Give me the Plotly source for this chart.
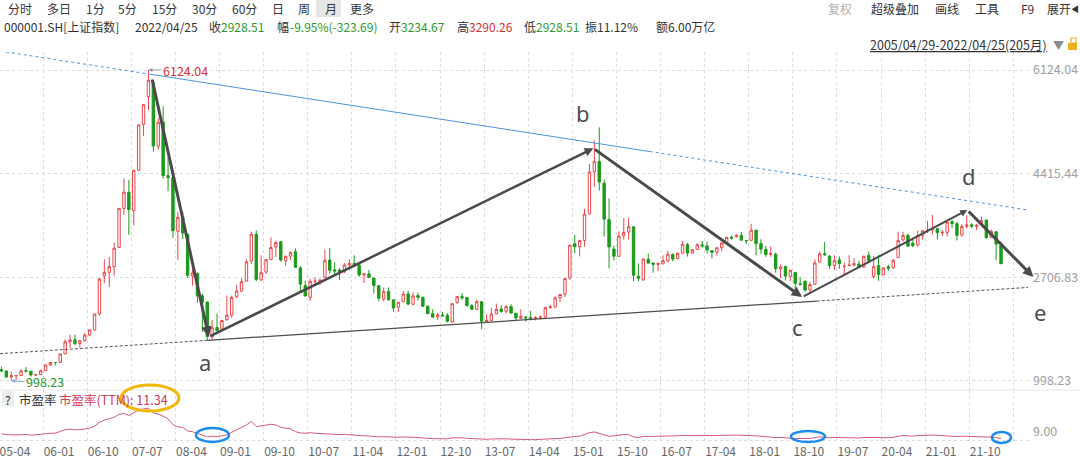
import plotly.graph_objects as go

# ---------------- data (monthly, 2005-04 .. 2022-04, 205 months) ----------------
open_ = [
    1181, 1159, 1060, 1080, 1083, 1162, 1155, 1092, 1099,
    1163, 1258, 1299, 1300, 1440, 1641, 1672, 1612, 1658, 1752, 1837, 2099,
    2728, 2786, 2881, 3197, 3841, 4106, 3802, 4471, 5226, 5683, 5914, 4868,
    5266, 4381, 4349, 3462, 3700, 3416, 2727, 2765, 2399, 2296, 1720, 1874,
    1849, 2004, 2080, 2380, 2477, 2640, 2973, 3414, 2662, 2791, 2997, 3205,
    3289, 2978, 3055, 3125, 2859, 2567, 2373, 2639, 2650, 2706, 2988, 2827,
    2825, 2803, 2909, 2935, 2905, 2744, 2762, 2691, 2566, 2344, 2473, 2332,
    2212, 2303, 2429, 2259, 2403, 2372, 2225, 2103, 2050, 2083, 2076, 1966,
    2289, 2386, 2372, 2237, 2174, 2301, 1975, 1993, 2102, 2181, 2143, 2222,
    2112, 2027, 2047, 2036, 2022, 2035, 2047, 2203, 2215, 2365, 2427, 2694,
    3258, 3212, 3312, 3748, 4446, 4614, 4255, 3656, 3168, 3050, 3391, 3451,
    3536, 2720, 2661, 3001, 2939, 2917, 2925, 2975, 3080, 3014, 3102, 3246,
    3105, 3166, 3239, 3222, 3144, 3119, 3192, 3271, 3367, 3371, 3397, 3309,
    3314, 3479, 3262, 3163, 3081, 3085, 2841, 2882, 2719, 2786, 2598, 2640,
    2497, 2590, 2954, 3094, 3053, 2899, 2992, 2881, 2898, 2906, 2921, 2876,
    3066, 2716, 2899, 2743, 2877, 2863, 3028, 3322, 3398, 3264, 3239, 3388,
    3475, 3486, 3505, 3439, 3445, 3620, 3588, 3402, 3546, 3572, 3544, 3575,
    3650, 3362, 3454, 3234.67,
]
high = [
    1232, 1163, 1147, 1095, 1185, 1223, 1157, 1113, 1181,
    1260, 1307, 1306, 1445, 1681, 1758, 1757, 1672, 1785, 1840, 2100, 2698,
    3000, 3041, 3276, 3842, 4335, 4312, 4471, 5219, 5562, 6124.04, 5914, 5329,
    5522, 4695, 4472, 3786, 3786, 3416, 2953, 2786, 2434, 2296, 2000, 2100,
    2004, 2402, 2399, 2579, 2689, 3003, 3455, 3478, 3068, 3000, 3361, 3305,
    3306, 3060, 3132, 3181, 2893, 2650, 2674, 2701, 2676, 3160, 3186, 2950,
    2855, 2939, 3001, 3067, 2933, 2773, 2827, 2699, 2578, 2536, 2537, 2341,
    2296, 2478, 2478, 2454, 2453, 2389, 2245, 2175, 2118, 2133, 2111, 2276,
    2390, 2444, 2375, 2262, 2334, 2315, 2093, 2198, 2270, 2243, 2244, 2260,
    2112, 2177, 2067, 2147, 2061, 2075, 2224, 2249, 2391, 2430, 2683, 3239,
    3407, 3325, 3835, 4573, 4959, 5178, 4318, 4006, 3231, 3464, 3679, 3684,
    3539, 2934, 3019, 3098, 2953, 2950, 3066, 3140, 3101, 3113, 3301, 3271,
    3165, 3264, 3304, 3295, 3152, 3200, 3276, 3374, 3391, 3418, 3451, 3318,
    3587, 3495, 3334, 3220, 3219, 3114, 2915, 2897, 2827, 2787, 2703, 2649,
    2630, 2997, 3130, 3288, 3070, 3070, 3048, 2946, 3068, 3022, 2979, 3063,
    3127, 3058, 3074, 2864, 2909, 3001, 3458, 3453, 3425, 3359, 3474, 3474,
    3637, 3732, 3522, 3481, 3625, 3654, 3623, 3582, 3731, 3600, 3590, 3709,
    3651, 3492, 3467, 3290.26,
]
low = [
    1136, 1043, 998.23, 1004, 1083, 1131, 1067, 1074, 1097,
    1163, 1240, 1250, 1297, 1440, 1541, 1583, 1547, 1644, 1729, 1821, 2072,
    2605, 2541, 2726, 3195, 3738, 3404, 3563, 4457, 5034, 5462, 4778, 4813,
    4330, 4123, 3357, 2990, 3333, 2693, 2566, 2284, 1802, 1664, 1678, 1814,
    1844, 1990, 2037, 2356, 2460, 2635, 2923, 2639, 2639, 2761, 2990, 3039,
    2963, 2890, 2986, 2868, 2481, 2382, 2319, 2564, 2573, 2688, 2764, 2740,
    2661, 2772, 2823, 2873, 2710, 2610, 2692, 2437, 2307, 2307, 2319, 2134,
    2132, 2291, 2242, 2242, 2320, 2224, 2100, 2036, 1999, 2056, 1959, 1949,
    2264, 2327, 2220, 2160, 2164, 1849, 1951, 1986, 2099, 2121, 2107, 2104,
    1984, 2022, 1974, 1993, 1992, 2010, 2039, 2186, 2198, 2297, 2377, 2663,
    3096, 3050, 3210, 3747, 4197, 4132, 3373, 2851, 2983, 3050, 3325, 3328,
    2638, 2638, 2649, 2932, 2781, 2808, 2925, 2950, 2969, 2998, 3092, 3045,
    3095, 3155, 3193, 3097, 3016, 3062, 3131, 3238, 3328, 3363, 3310, 3254,
    3314, 3063, 3091, 3041, 3042, 2782, 2691, 2653, 2644, 2449, 2567, 2463,
    2440, 2582, 2954, 3055, 2838, 2823, 2844, 2733, 2893, 2891, 2857, 2856,
    2955, 2685, 2646, 2735, 2810, 2845, 3025, 3294, 3202, 3200, 3209, 3325,
    3435, 3410, 3328, 3383, 3377, 3517, 3312, 3374, 3512, 3515, 3482, 3560,
    3337, 3360, 2986, 2928.51,
]
close = [
    1159, 1060, 1080, 1083, 1162, 1155, 1092, 1099, 1161,
    1258, 1299, 1298, 1440, 1641, 1672, 1612, 1658, 1752, 1837, 2099, 2675,
    2786, 2881, 3183, 3841, 4109, 3820, 4471, 5218, 5552, 5954, 4871, 5262,
    4383, 4348, 3473, 3693, 3433, 2736, 2776, 2397, 2293, 1729, 1871, 1821,
    1991, 2082, 2373, 2477, 2633, 2959, 3412, 2667, 2779, 2996, 3195, 3277,
    2989, 3051, 3110, 2871, 2592, 2398, 2638, 2639, 2656, 2979, 2820, 2808,
    2791, 2905, 2928, 2911, 2743, 2762, 2701, 2568, 2359, 2468, 2333, 2199,
    2292, 2428, 2262, 2397, 2373, 2225, 2103, 2047, 2086, 2069, 1980, 2269,
    2385, 2366, 2237, 2178, 2301, 1979, 1994, 2098, 2175, 2141, 2220, 2116,
    2033, 2056, 2033, 2026, 2039, 2048, 2202, 2217, 2364, 2420, 2683, 3235,
    3210, 3310, 3748, 4441, 4612, 4277, 3664, 3206, 3053, 3383, 3446, 3539,
    2738, 2688, 3004, 2938, 2917, 2930, 2979, 3085, 3005, 3100, 3250, 3104,
    3159, 3242, 3223, 3155, 3117, 3192, 3273, 3361, 3349, 3393, 3317, 3307,
    3481, 3259, 3169, 3082, 3095, 2847, 2876, 2725, 2821, 2603, 2588, 2494,
    2585, 2941, 3091, 3078, 2899, 2979, 2932, 2886, 2905, 2929, 2871, 3050,
    2977, 2880, 2750, 2860, 2852, 2985, 3310, 3396, 3218, 3225, 3392, 3473,
    3483, 3509, 3441, 3447, 3615, 3591, 3397, 3544, 3568, 3547, 3564, 3640,
    3361, 3462, 3252, 2928.51,
]
pe_ttm = [
    18.6, 17.2, 17.0, 16.9, 17.8, 17.6, 16.6, 16.8, 17.8,
    18.9, 19.5, 19.8, 22.5, 25.0, 25.8, 24.8, 25.2, 26.0, 27.2, 30.5, 36.5,
    40.0, 42.0, 44.5, 49.0, 50.5, 47.0, 52.0, 56.0, 57.5, 58.5, 51.0, 49.5,
    46.0, 42.0, 33.0, 29.5, 28.5, 23.0, 22.0, 19.5, 17.5, 13.8, 15.0, 14.5,
    15.5, 17.0, 21.0, 24.5, 28.0, 32.5, 38.0, 30.0, 31.0, 32.0, 33.5, 32.5,
    29.0, 27.5, 26.5, 22.0, 20.0, 19.5, 20.5, 19.5, 19.0, 19.5, 18.5, 18.0,
    17.5, 17.8, 17.0, 16.8, 16.0, 15.5, 15.3, 14.5, 13.8, 14.2, 13.5, 13.0,
    13.2, 13.8, 13.0, 13.2, 13.0, 12.0, 11.5, 11.2, 11.3, 11.2, 10.8, 12.3,
    12.8, 12.5, 11.5, 11.0, 11.6, 10.0, 10.2, 10.6, 11.0, 10.6, 10.9, 10.4,
    10.0, 9.9, 9.7, 9.6, 9.6, 9.7, 10.3, 10.4, 11.2, 11.4, 12.5, 14.5,
    14.5, 15.0, 17.5, 20.5, 21.5, 19.0, 16.5, 14.8, 15.5, 17.0, 17.5, 17.5,
    13.5, 13.0, 14.5, 14.5, 14.5, 14.8, 15.2, 15.5, 15.2, 15.5, 16.2, 15.6,
    15.8, 16.2, 16.0, 15.6, 15.4, 15.9, 16.2, 16.5, 16.4, 16.7, 16.2, 16.0,
    16.6, 15.5, 14.8, 13.8, 13.8, 12.8, 13.0, 12.2, 12.5, 11.3, 11.3, 10.9,
    11.3, 12.8, 13.8, 13.5, 12.5, 13.0, 12.6, 12.3, 12.4, 12.5, 12.2, 13.0,
    12.8, 12.4, 12.0, 12.6, 12.6, 13.2, 15.3, 16.2, 15.5, 15.0, 15.8, 16.5,
    16.8, 16.8, 16.3, 15.6, 15.6, 15.2, 14.4, 14.9, 14.7, 14.3, 14.2, 14.5,
    13.2, 13.5, 12.6, 11.34,
]
month_index = list(range(len(close)))

x_tick_months = [0, 9, 18, 27, 36, 45, 54, 63, 72, 81, 90, 99, 108, 117, 126,
                 135, 144, 153, 162, 171, 180, 189, 198]
x_tick_labels = ["05-04", "06-01", "06-10", "07-07", "08-04", "09-01", "09-10",
                 "10-07", "11-04", "12-01", "12-10", "13-07", "14-04", "15-01",
                 "15-10", "16-07", "17-04", "18-01", "18-10", "19-07", "20-04",
                 "21-01", "21-10"]
price_ticks = [998.23, 2706.83, 4415.44, 6124.04]
pe_ticks = [9.00]

# hand-drawn analysis lines (month index, price)
upper_x = [-0.3, 29.9, 132.3, 209.5]
upper_y = [6437, 6060, 4779, 3814]
lower_x = [-0.3, 42.0, 166.4, 209.5]
lower_y = [1444, 1664, 2312, 2537]
wave_x = [30.7, 42.3, 120.8, 163.4, 197.1, 210.6]
wave_y = [5992, 1720, 4832, 2378, 3814, 2708]
wave_w = [3, 2.5, 3, 2, 3]
wave_names = ["a", "b", "c", "d"]
wave_label_x = [41.5, 118.7, 162.4, 197.5]
wave_label_y = [1306, 5414, 1884, 4375]

# ---------------- figure ----------------
W, H = 1080, 458
FONT = "Noto Sans CJK SC"


def px(x):
    return x / W


def py(y):
    return 1 - y / H


fig = go.Figure()

fig.add_trace(go.Candlestick(
    x=month_index, open=open_, high=high, low=low, close=close,
    increasing=dict(line=dict(color="#e8474b", width=1), fillcolor="#ffffff"),
    decreasing=dict(line=dict(color="#1b9a1b", width=1), fillcolor="#1b9a1b"),
    whiskerwidth=0, xaxis="x", yaxis="y", showlegend=False, hoverinfo="skip",
))


def seg(xs, ys, color, width, dash):
    fig.add_trace(go.Scatter(x=xs, y=ys, mode="lines", xaxis="x", yaxis="y",
                             line=dict(color=color, width=width, dash=dash),
                             showlegend=False, hoverinfo="skip"))


seg(upper_x[0:2], upper_y[0:2], "#4a94dc", 1, "dot")
seg(upper_x[1:3], upper_y[1:3], "#4a94dc", 1, "solid")
seg(upper_x[2:4], upper_y[2:4], "#4a94dc", 1, "dot")
seg(lower_x[0:2], lower_y[0:2], "#555555", 1, "3px,2px")
seg(lower_x[1:3], lower_y[1:3], "#4d4d4d", 1.3, "solid")
seg(lower_x[2:4], lower_y[2:4], "#555555", 1, "3px,2px")

# PE line
fig.add_trace(go.Scatter(x=month_index, y=pe_ttm, mode="lines", xaxis="x", yaxis="y2",
                         line=dict(color="#d4587e", width=1), showlegend=False,
                         hoverinfo="skip"))

annotations = []
for i in range(5):
    annotations.append(dict(
        x=wave_x[i + 1], y=wave_y[i + 1], ax=wave_x[i], ay=wave_y[i],
        xref="x", yref="y", axref="x", ayref="y", text="", showarrow=True,
        arrowhead=2, arrowsize=0.7, arrowwidth=wave_w[i], arrowcolor="#4a4a4a",
        standoff=0, startstandoff=0))
for i in range(4):
    annotations.append(dict(
        x=wave_label_x[i], y=wave_label_y[i], xref="x", yref="y",
        text=wave_names[i], showarrow=False,
        font=dict(family="Noto Sans", size=22, color="#4d4d4d")))
# "e" sits right of the plot area, so place it in page coordinates
annotations.append(dict(x=1040 / W, y=1 - 312 / H, xref="paper", yref="paper",
                        text="e", showarrow=False, xanchor="center", yanchor="middle",
                        font=dict(family="Noto Sans", size=22, color="#4d4d4d")))

annotations.append(dict(x=30, y=6124.04, xref="x", yref="y", text="6124.04",
                        showarrow=True, ax=13, ay=0, xanchor="left",
                        arrowhead=2, arrowsize=0.8, arrowwidth=1, arrowcolor="#9a9a9a",
                        font=dict(family=FONT, size=12.5, color="#d7322f")))
annotations.append(dict(x=2, y=998.23, xref="x", yref="y", text="998.23",
                        showarrow=True, ax=13, ay=1, xanchor="left",
                        arrowhead=2, arrowsize=0.8, arrowwidth=1, arrowcolor="#8aa8c8",
                        font=dict(family=FONT, size=12.5, color="#2a982a")))


def txt(s, x, y, size=12, color="#333333", anchor="left"):
    annotations.append(dict(x=px(x), y=py(y), xref="paper", yref="paper", text=s,
                            showarrow=False, xanchor=anchor, yanchor="middle",
                            font=dict(family=FONT, size=size, color=color)))


for s, x in [("分时", 6), ("多日", 45), ("1分", 84), ("5分", 116), ("15分", 150),
             ("30分", 190), ("60分", 230), ("日", 270), ("周", 296), ("月", 323),
             ("更多", 348), ("超级叠加", 869), ("画线", 933), ("工具", 973),
             ("F9", 1019), ("展开", 1045)]:
    txt(s, x, 8, 12, "#333333")
txt("复权", 826, 8, 12, "#b0b0b0")
txt("◀", 1069, 8, 8, "#333333")

GREEN = "#2a982a"
RED = "#d7322f"
for s, x, c in [("000001.SH[上证指数]", 2, "#333333"), ("2022/04/25", 133, "#333333"),
                ("收", 207, "#333333"), ("2928.51", 219, GREEN),
                ("幅", 275, "#333333"), ("-9.95%(-323.69)", 288, GREEN),
                ("开", 387, "#333333"), ("3234.67", 399, GREEN),
                ("高", 455, "#333333"), ("3290.26", 467, RED),
                ("低", 522, "#333333"), ("2928.51", 534, GREEN),
                ("振", 583, "#333333"), ("11.12%", 595, "#333333"),
                ("额", 654, "#333333"), ("6.00万亿", 666, "#333333")]:
    txt(s, x, 26, 12, c)

txt("<u>2005/04/29-2022/04/25(205月)</u>", 1049, 45, 12.5, "#333333", anchor="right")
txt("▼", 1051, 45, 11, "#8c8c8c")

txt("?", 8, 399, 12, "#333333", anchor="center")
txt("市盈率", 17, 399, 12.5, "#333333")
txt("市盈率(TTM): 11.34", 57, 399, 12.5, "#d03a5c")

shapes = [
    dict(type="rect", xref="paper", yref="paper", x0=px(316), x1=px(341), y0=py(17), y1=py(0),
         fillcolor="#e6e6e6", line=dict(width=0), layer="below"),
    dict(type="rect", xref="paper", yref="paper", x0=px(2), x1=px(14), y0=py(406), y1=py(391),
         fillcolor="#ededed", line=dict(width=0), layer="below"),
    dict(type="line", xref="paper", yref="paper", x0=0, x1=1, y0=py(390), y1=py(390),
         line=dict(color="#e6e6e6", width=1)),
    dict(type="rect", xref="paper", yref="paper", x0=px(1068), x1=px(1077), y0=py(50), y1=py(43),
         fillcolor="#f0b020", line=dict(width=0)),
    dict(type="rect", xref="paper", yref="paper", x0=px(1071), x1=px(1076), y0=py(43), y1=py(38),
         fillcolor="rgba(0,0,0,0)", line=dict(color="#f0b020", width=1.2)),
    dict(type="circle", xref="paper", yref="paper", x0=px(121), x1=px(179), y0=py(411), y1=py(385),
         line=dict(color="#f3b70a", width=3)),
    dict(type="circle", xref="paper", yref="paper", x0=px(196), x1=px(229), y0=py(442), y1=py(428),
         line=dict(color="#1a8cf0", width=2.5)),
    dict(type="circle", xref="paper", yref="paper", x0=px(791), x1=px(825), y0=py(442), y1=py(431),
         line=dict(color="#1a8cf0", width=2.5)),
    dict(type="circle", xref="paper", yref="paper", x0=px(992), x1=px(1011), y0=py(443), y1=py(432),
         line=dict(color="#1a8cf0", width=2.5)),
]

PX_PER_MONTH = 4.9
x_left = 1 / PX_PER_MONTH - 0.5
x_right = 1031 / PX_PER_MONTH - 0.5
P_PER_PX = 16.498
GRID = "#dcdcdc"

fig.update_layout(
    width=W, height=H, margin=dict(l=0, r=0, t=0, b=0),
    paper_bgcolor="white", plot_bgcolor="white", showlegend=False,
    font=dict(family=FONT, color="#333333"),
    xaxis=dict(domain=[0, 1030 / W], range=[x_left, x_right], anchor="y2",
               tickmode="array", tickvals=[m + 2.77 for m in x_tick_months],
               ticktext=x_tick_labels, ticks="", showgrid=False, zeroline=False,
               showline=False, automargin=False, rangeslider=dict(visible=False),
               ticklabeloverflow="allow",
               tickfont=dict(family=FONT, size=12, color="#666666"), ticklabelstandoff=1,
               minor=dict(tickmode="array", tickvals=[m - 0.5 for m in x_tick_months] + [206.5],
                          showgrid=True, gridcolor=GRID, griddash="dot", gridwidth=1, ticks="")),
    yaxis=dict(domain=[py(390), py(52)],
               range=[998.23 - (390 - 380.7) * P_PER_PX, 6124.04 + (70 - 52) * P_PER_PX],
               side="right", anchor="x", tickmode="array", tickvals=price_ticks,
               ticktext=["%.2f" % v for v in price_ticks], ticks="", showgrid=True,
               gridcolor=GRID, griddash="dot", zeroline=False, showline=False,
               automargin=False, tickfont=dict(family=FONT, size=12.5, color="#a0a0a0"),
               ticklabelstandoff=2),
    yaxis2=dict(domain=[py(442), py(390)], range=[9 - 2 * 1.56, 9 + 50 * 1.56],
                side="right", anchor="x", tickmode="array", tickvals=pe_ticks,
                ticktext=["%.2f" % v for v in pe_ticks], ticks="", showgrid=True,
                gridcolor=GRID, griddash="dot", zeroline=False, showline=False,
                automargin=False, ticklabelposition="outside top",
                tickfont=dict(family=FONT, size=12.5, color="#a0a0a0"), ticklabelstandoff=2),
    annotations=annotations, shapes=shapes,
)

fig.write_html(
    "out.html",
    config={"displayModeBar": False},
    post_script="document.body.style.margin='0';document.body.style.padding='0';"
                "document.body.style.overflow='hidden';"
                "document.documentElement.style.overflow='hidden';",
)
